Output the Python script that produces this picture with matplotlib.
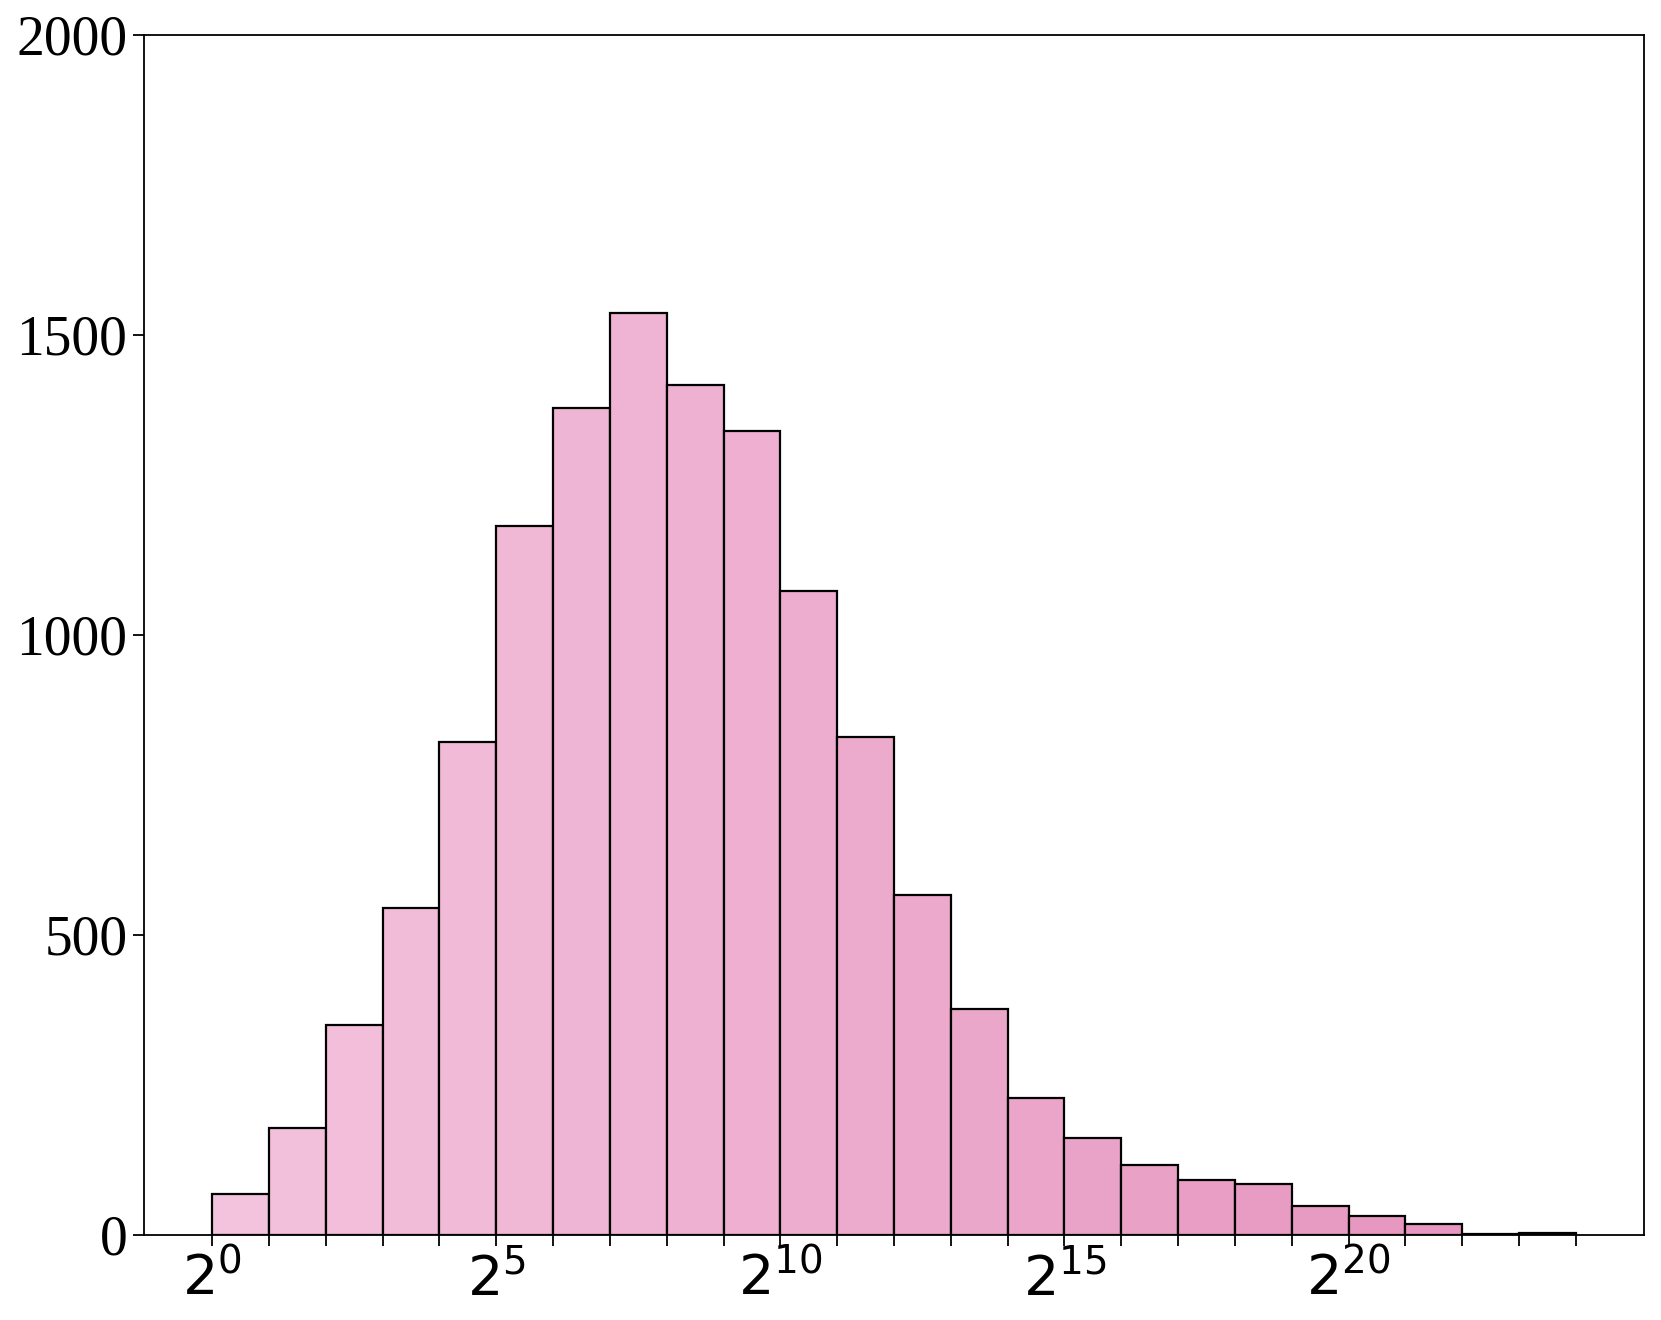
import numpy as np
import matplotlib
matplotlib.use("Agg")
import matplotlib.pyplot as plt
from matplotlib.colors import to_rgb
from matplotlib.ticker import FixedLocator, FuncFormatter, NullFormatter

# histogram counts, one per power-of-two bin [2^k, 2^(k+1))
exponents = list(range(24))
counts = [69, 178, 350, 545, 821, 1181, 1379, 1536, 1417, 1340, 1073, 830,
          567, 376, 228, 161, 117, 92, 85, 48, 32, 18, 2, 3]
yticks = [0, 500, 1000, 1500, 2000]
xmajor = [0, 5, 10, 15, 20]

c0 = np.array(to_rgb("#f3c2dc"))
c1 = np.array(to_rgb("#e592bd"))
colors = [tuple(c0 + (c1 - c0) * i / (len(counts) - 1)) for i in range(len(counts))]

left = np.array([2.0 ** e for e in exponents])
width = left  # 2^(k+1) - 2^k

fig = plt.figure(figsize=(16.61, 13.2), dpi=100)
ax = fig.add_axes([0.0867, 0.0644, 0.9031, 0.9091])
ax.bar(left, counts, width=width, align="edge", color=colors,
       edgecolor="black", linewidth=1.6)
ax.set_xscale("log", base=2)
ax.set_ylim(0, 2000)

ax.xaxis.set_major_locator(FixedLocator([2.0 ** e for e in xmajor]))
ax.xaxis.set_major_formatter(FuncFormatter(lambda v, p: r"$2^{%d}$" % round(np.log2(v))))
ax.xaxis.set_minor_locator(FixedLocator([2.0 ** e for e in range(25)]))
ax.xaxis.set_minor_formatter(NullFormatter())
ax.tick_params(axis="x", which="both", length=8, width=1.3, labelsize=40, pad=4)

ax.set_yticks(yticks)
ax.set_yticklabels([str(v) for v in yticks], family="Liberation Serif")
ax.tick_params(axis="y", length=8, width=1.3, labelsize=40, pad=4)
for s in ax.spines.values():
    s.set_linewidth(1.3)

fig.savefig("out.png", dpi=100)
